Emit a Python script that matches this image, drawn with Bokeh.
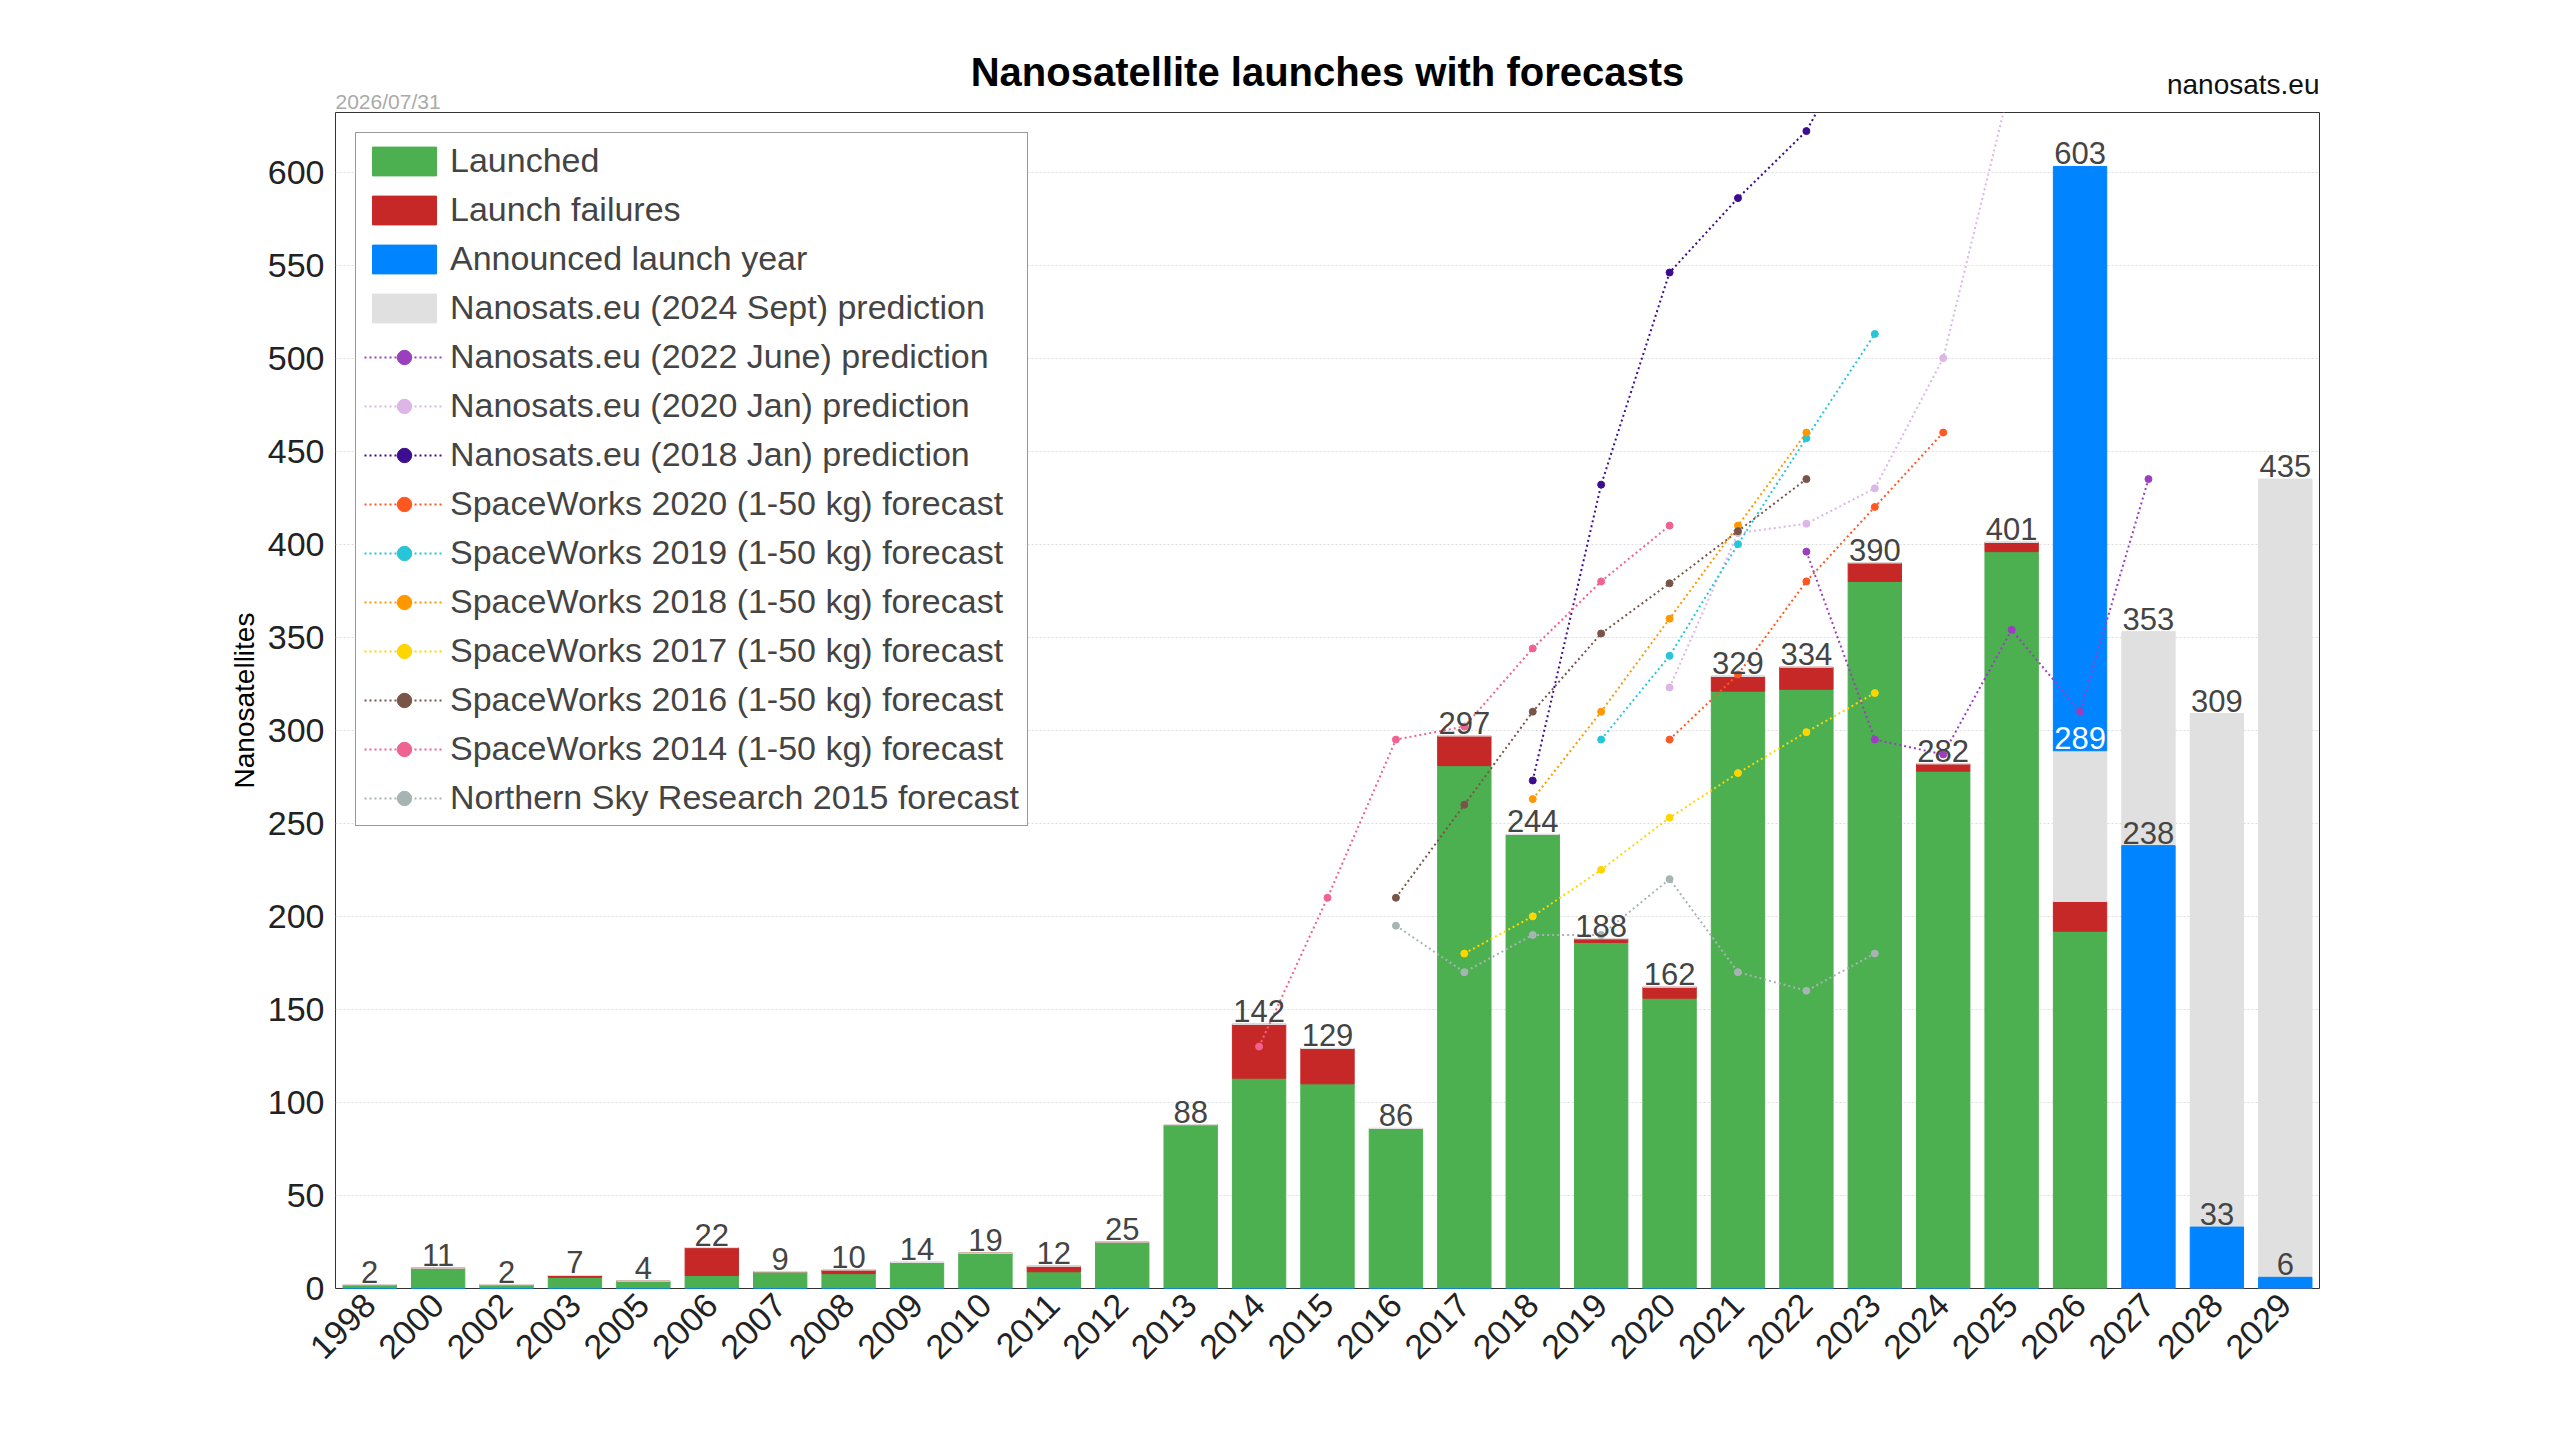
from bokeh.plotting import figure
from bokeh.models import Legend, LegendItem, Title, ColumnDataSource
from bokeh.embed import file_html
from bokeh.resources import INLINE
from bokeh.core.properties import value

years = ["1998","2000","2002","2003","2005","2006","2007","2008","2009","2010","2011","2012",
         "2013","2014","2015","2016","2017","2018","2019","2020","2021","2022","2023","2024",
         "2025","2026","2027","2028","2029"]
launched = [2,11,2,6,4,7,9,8,14,19,9,25,88,113,110,86,281,244,186,156,321,322,380,278,396,192,0,0,0]
failures = [0,0,0,1,0,15,0,2,0,0,3,0,0,29,19,0,16,0,2,6,8,12,10,4,5,16,0,0,0]
announced = [0]*25 + [314,238,33,6]
pred2024 = [0]*25 + [81,115,276,429]
labels_total = ["2","11","2","7","4","22","9","10","14","19","12","25","88","142","129","86",
                "297","244","188","162","329","334","390","282","401","603","353","309","435"]

forecasts = [
    ("Nanosats.eu (2022 June) prediction", "#9c3fbf", ["2022","2023","2024","2025","2026","2027"], [396,295,287,354,310,435]),
    ("Nanosats.eu (2020 Jan) prediction", "#dcb6e6", ["2020","2021","2022","2023","2024","2025"], [323,406,411,430,500,650]),
    ("Nanosats.eu (2018 Jan) prediction", "#3d0d8f", ["2018","2019","2020","2021","2022","2023"], [273,432,546,586,622,690]),
    ("SpaceWorks 2020 (1-50 kg) forecast", "#ff5722", ["2020","2021","2022","2023","2024"], [295,330,380,420,460]),
    ("SpaceWorks 2019 (1-50 kg) forecast", "#26c6da", ["2019","2020","2021","2022","2023"], [295,340,400,457,513]),
    ("SpaceWorks 2018 (1-50 kg) forecast", "#ff9800", ["2018","2019","2020","2021","2022"], [263,310,360,410,460]),
    ("SpaceWorks 2017 (1-50 kg) forecast", "#ffd600", ["2017","2018","2019","2020","2021","2022","2023"], [180,200,225,253,277,299,320]),
    ("SpaceWorks 2016 (1-50 kg) forecast", "#795548", ["2016","2017","2018","2019","2020","2021","2022"], [210,260,310,352,379,407,435]),
    ("SpaceWorks 2014 (1-50 kg) forecast", "#f06292", ["2014","2015","2016","2017","2018","2019","2020"], [130,210,295,302,344,380,410]),
    ("Northern Sky Research 2015 forecast", "#a8b4b4", ["2016","2017","2018","2019","2020","2021","2022","2023"], [195,170,190,190,220,170,160,180]),
]

FONT = "Liberation Sans"
g_top = launched
r_top = [a + b for a, b in zip(launched, failures)]
s_bottom = [r if i < 26 else b for i, (r, b) in enumerate(zip(r_top, announced))]
s_bottom[25] = r_top[25]
s_top = [sb + p for sb, p in zip(s_bottom, pred2024)]
b_bottom = [s_top[25] if i == 25 else 0 for i in range(len(years))]
b_top = [b_bottom[i] + announced[i] for i in range(len(years))]
label_y = [max(r_top[i], s_top[i], b_top[i]) for i in range(len(years))]

src = ColumnDataSource(dict(x=years, g=g_top, r0=g_top, r1=r_top, s0=s_bottom, s1=s_top,
                            b0=b_bottom, b1=b_top, ly=label_y, lt=labels_total))

PW, PH = 2544, 1420
ML, MR, MT, MB = 335, 225, 112, 132
p = figure(x_range=years, y_range=(0, 632), width=PW, height=PH,
           output_backend="svg", toolbar_location=None, title=None,
           min_border_left=ML, min_border_right=MR, min_border_top=MT, min_border_bottom=MB)

p.add_layout(Title(text="2026/07/31", align="left", text_font=FONT, text_font_size="21px",
                   text_color="#aaaaaa", text_font_style="normal", standoff=0, offset=0), "above")
p.add_layout(Title(text="nanosats.eu", align="right", text_font=FONT, text_font_size="28px",
                   text_color="#111111", text_font_style="normal", standoff=-24), "above")
p.add_layout(Title(text="Nanosatellite launches with forecasts", align="center", text_font=FONT,
                   text_font_size="40px", text_color="#000000", text_font_style="bold",
                   standoff=-30), "above")

W = 0.78
rg = p.vbar(x="x", bottom=0, top="g", width=W, color="#4caf50", source=src)
rr = p.vbar(x="x", bottom="r0", top="r1", width=W, color="#c62828", source=src)
rs = p.vbar(x="x", bottom="s0", top="s1", width=W, color="#e0e0e0", source=src)
rb = p.vbar(x="x", bottom="b0", top="b1", width=W, color="#0084ff", source=src)

items = [LegendItem(label="Launched", renderers=[rg]),
         LegendItem(label="Launch failures", renderers=[rr]),
         LegendItem(label="Announced launch year", renderers=[rb]),
         LegendItem(label="Nanosats.eu (2024 Sept) prediction", renderers=[rs])]
for name, col, xs, ys in forecasts:
    l = p.line(xs, ys, color=col, line_width=2, line_dash="2 3")
    s = p.scatter(xs, ys, color=col, size=7)
    items.append(LegendItem(label=name, renderers=[l, s]))

p.text(x="x", y="ly", text="lt", source=src, text_align="center", text_baseline="bottom",
       text_font=value(FONT), text_font_size="31px", text_color="#444444", y_offset=-2)
extra = ColumnDataSource(dict(x=["2026", "2027", "2028", "2029"], y=[289, 238, 33, 6],
                              t=["289", "238", "33", "6"], c=["white", "#444444", "#444444", "#444444"]))
p.text(x="x", y="y", text="t", text_color="c", source=extra, text_align="center", text_baseline="bottom",
       text_font=value(FONT), text_font_size="31px", y_offset=-2)

leg = Legend(items=items, location="top_left", label_text_font=FONT, label_text_font_size="34px",
             glyph_width=80, glyph_height=36, label_height=36, spacing=10, padding=8,
             margin=20, border_line_color="#333333", label_standoff=6)
p.add_layout(leg, "center")

p.outline_line_color = "#333333"
p.xgrid.grid_line_color = None
p.ygrid.grid_line_color = "#dddddd"
p.ygrid.grid_line_dash = "2 2"
p.yaxis.ticker = list(range(0, 601, 50))
p.yaxis.axis_label = "Nanosatellites"
p.yaxis.axis_label_text_font = FONT
p.yaxis.axis_label_text_font_size = "28px"
p.yaxis.axis_label_text_font_style = "normal"
p.yaxis.axis_label_text_color = "#000000"
for ax in (p.xaxis, p.yaxis):
    ax.major_label_text_font = FONT
    ax.major_label_text_font_size = "34px"
    ax.major_label_text_color = "#222222"
    ax.axis_line_color = None
    ax.major_tick_line_color = None
    ax.minor_tick_line_color = None
p.xaxis.major_label_orientation = 0.785

open("out.html", "w").write(file_html(p, INLINE))
